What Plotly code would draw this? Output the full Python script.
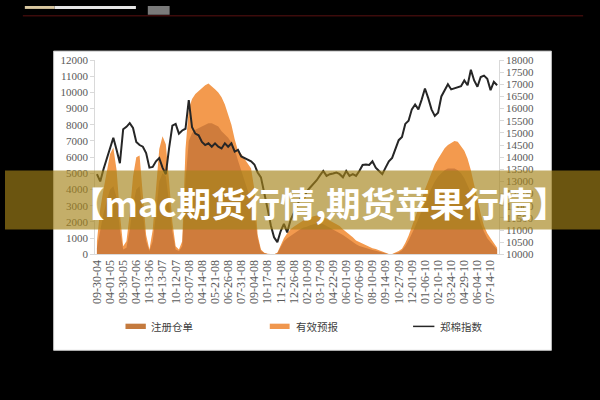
import plotly.graph_objects as go

# ---- data ----
date_labels = ["09-30-04", "04-01-05", "09-30-05", "04-07-06", "10-13-06", "04-13-07",
               "10-12-07", "03-07-08", "04-14-08", "05-21-08", "06-26-08", "07-31-08",
               "09-04-08", "10-17-08", "11-21-08", "12-26-08", "02-10-09", "03-17-09",
               "04-22-09", "06-01-09", "07-06-09", "08-10-09", "09-14-09", "10-27-09",
               "12-01-09", "01-06-10", "02-10-10", "03-24-10", "04-29-10", "06-04-10",
               "07-14-10"]
points_per_label = 4

cotton_index = [
    13300, 13000, 13500, 13950, 14350, 14800, 14300, 13750, 15150, 15250,
    15400, 15200, 14630, 14500, 14430, 14170, 13570, 13600, 13830, 13960,
    13570, 13300, 14370, 15300, 15370, 14970, 15100, 15170, 16350, 15230,
    14970, 14900, 14630, 14500, 14570, 14430, 14570, 14430, 14360, 14570,
    14430, 14570, 14230, 14300, 14030, 13970, 13900, 13830, 13700, 13370,
    13170, 12600, 11900, 11200, 10700, 10500, 10950, 11250, 10900, 11400,
    11700, 12050, 12300, 12250, 12600, 12750, 12900, 13050, 13250, 13430,
    13230, 13300, 13330, 13370, 13300, 13170, 13430, 13230, 13300, 13230,
    13430, 13680, 13700, 13680, 13830, 13570, 13430, 13300, 13570, 13830,
    13970, 14370, 14700, 14830, 15370, 15500, 15970, 16170, 15970, 16370,
    16830, 16430, 15970, 15700, 15830, 16500, 16760, 17000, 16790, 16830,
    16900, 16920, 17160, 16960, 17600, 17160, 16900, 17300, 17360, 17230,
    16760, 17100, 16960]

valid_forecast = [
    800, 2800, 4000, 5200, 6200, 6600, 5200, 2500, 500, 800,
    2500, 4800, 6000, 6100, 3500, 1200, 300, 1500, 4000, 6500,
    7300, 6800, 4500, 2000, 500, 300, 800, 6500, 9000, 9600,
    9900, 10100, 10250, 10450, 10550, 10400, 10200, 10000, 9700, 9250,
    8650, 8000, 7100, 6400, 6200, 5900, 5600, 5300, 4000, 1200,
    300, 100, 30, 0, 0, 100, 600, 1000, 1300, 1550,
    1700, 1850, 2000, 2100, 2200, 2300, 2350, 2400, 2400, 2300,
    2200, 2100, 1950, 1850, 1750, 1550, 1400, 1200, 1050, 850,
    750, 650, 550, 450, 380, 330, 250, 180, 80, 20,
    20, 100, 200, 350, 700, 1150, 1700, 2200, 2800, 3400,
    4000, 4550, 5100, 5550, 5900, 6200, 6550, 6750, 6900, 7000,
    6950, 6700, 6400, 5900, 5200, 4300, 3300, 2500, 1750, 1300,
    1000, 700, 400]

registered_receipts = [
    400, 1500, 2500, 3300, 4000, 4200, 3500, 1500, 300, 400,
    1500, 3000, 4000, 4200, 2500, 800, 200, 800, 2500, 4500,
    5000, 4800, 3200, 1400, 300, 200, 500, 4500, 7000, 7500,
    7700, 7800, 7900, 8000, 8100, 8100, 8000, 7900, 7600, 7400,
    7200, 6900, 6500, 5800, 5200, 4600, 4000, 3300, 2500, 1000,
    200, 80, 20, 0, 0, 60, 400, 800, 1000, 1150,
    1300, 1450, 1550, 1650, 1700, 1800, 1850, 1900, 1900, 1850,
    1750, 1650, 1550, 1450, 1350, 1200, 1050, 900, 750, 620,
    520, 450, 380, 320, 260, 220, 170, 120, 50, 10,
    10, 50, 120, 250, 500, 850, 1250, 1700, 2200, 2700,
    3200, 3700, 4100, 4500, 4800, 5000, 5200, 5300, 5300, 5300,
    5200, 5000, 4700, 4300, 3800, 3200, 2500, 1900, 1400, 1000,
    750, 550, 300]

series_names = ["注册仓单", "有效预报", "郑棉指数"]
banner_text = "【mac期货行情,期货苹果行情】"

# ---- styling ----
W, H = 600, 400
LIGHT = "#F39A4E"
DARK = "#CF7C3C"
LINE = "#262626"
AXIS = "#D9D9D9"
TICKC = "#595959"
SERIF = "Liberation Serif"
CJK = "Noto Sans CJK SC"

x = list(range(len(cotton_index)))
tickvals = [i * points_per_label for i in range(len(date_labels))]

fig = go.Figure()
fig.add_trace(go.Scatter(x=x, y=valid_forecast, name=series_names[1], mode="lines",
                         line=dict(width=0, color=LIGHT), fill="tozeroy",
                         fillcolor=LIGHT, showlegend=False, yaxis="y"))
fig.add_trace(go.Scatter(x=x, y=registered_receipts, name=series_names[0], mode="lines",
                         line=dict(width=0, color=DARK), fill="tozeroy",
                         fillcolor=DARK, showlegend=False, yaxis="y"))
fig.add_trace(go.Scatter(x=x, y=cotton_index, name=series_names[2], mode="lines",
                         line=dict(width=2, color=LINE), showlegend=False, yaxis="y2"))


def px(v):
    return v / W


def py(v):
    return 1 - v / H


shapes = [
    # white panel
    dict(type="rect", xref="paper", yref="paper", x0=px(49), x1=px(551), y0=py(355), y1=py(46.5),
         fillcolor="white", line=dict(color="#BFBFBF", width=1), layer="below"),
    # header remnants at the top
    dict(type="rect", xref="paper", yref="paper", x0=px(20), x1=px(50), y0=py(3), y1=py(0),
         fillcolor="#D9C7A0", line=dict(width=0), layer="below"),
    dict(type="rect", xref="paper", yref="paper", x0=px(50), x1=px(132), y0=py(3), y1=py(0),
         fillcolor="#E6E6E6", line=dict(width=0), layer="below"),
    dict(type="rect", xref="paper", yref="paper", x0=px(144), x1=px(166), y0=py(9), y1=py(0),
         fillcolor="#7A7A7A", line=dict(width=0), layer="below"),
    dict(type="line", xref="paper", yref="paper", x0=px(18), x1=px(583), y0=py(10), y1=py(10),
         line=dict(color="#3C0B0B", width=1.5), layer="below"),
    # legend swatches
    dict(type="rect", xref="paper", yref="paper", x0=px(121.5), x1=px(142), y0=py(333), y1=py(327.5),
         fillcolor="#C47A3E", line=dict(width=0), layer="above"),
    dict(type="rect", xref="paper", yref="paper", x0=px(267), x1=px(287), y0=py(333), y1=py(327.5),
         fillcolor="#F0974E", line=dict(width=0), layer="above"),
    dict(type="line", xref="paper", yref="paper", x0=px(411.5), x1=px(433), y0=py(330.3), y1=py(330.3),
         line=dict(color=LINE, width=1.5), layer="above"),
    # banner overlay
    dict(type="rect", xref="paper", yref="paper", x0=0, x1=1, y0=py(230.5), y1=py(169.5),
         fillcolor="rgba(165,131,25,0.65)", line=dict(width=0), layer="above"),
]

annotations = [
    dict(text=series_names[0], x=px(145), y=py(330), xref="paper", yref="paper",
         xanchor="left", yanchor="middle", showarrow=False,
         font=dict(family=CJK, size=10.5, color="#404040")),
    dict(text=series_names[1], x=px(291), y=py(330), xref="paper", yref="paper",
         xanchor="left", yanchor="middle", showarrow=False,
         font=dict(family=CJK, size=10.5, color="#404040")),
    dict(text=series_names[2], x=px(436.5), y=py(330), xref="paper", yref="paper",
         xanchor="left", yanchor="middle", showarrow=False,
         font=dict(family=CJK, size=10.5, color="#404040")),
    dict(text="<b>" + banner_text + "</b>", x=px(317), y=py(202), xref="paper", yref="paper",
         xanchor="center", yanchor="middle", showarrow=False,
         font=dict(family=CJK, size=34.6, color="white")),
]

x_lo, x_hi = -0.5, 122.5
fig.update_layout(
    width=W, height=H,
    margin=dict(l=0, r=0, t=0, b=0),
    paper_bgcolor="black",
    plot_bgcolor="white",
    showlegend=False,
    shapes=shapes,
    annotations=annotations,
    xaxis=dict(domain=[91.05 / W, 497.9 / W], range=[x_lo, x_hi],
               tickmode="array", tickvals=tickvals, ticktext=date_labels,
               tickangle=-90, tickfont=dict(family=SERIF, size=12, color=TICKC),
               showline=True, linecolor=AXIS, linewidth=1, ticks="",
               showgrid=False, zeroline=False),
    yaxis=dict(domain=[py(256), py(55.7)], range=[0, 12000], dtick=1000, tickformat="d",
               tickfont=dict(family=SERIF, size=11, color=TICKC),
               showline=True, linecolor=AXIS, ticks="outside", ticklen=4, tickcolor=AXIS,
               showgrid=False, zeroline=False),
    yaxis2=dict(domain=[py(256), py(55.7)], range=[10000, 18000], dtick=500, tickformat="d",
                overlaying="y", side="right", anchor="x",
                tickfont=dict(family=SERIF, size=11, color=TICKC),
                showline=True, linecolor=AXIS, ticks="outside", ticklen=4, tickcolor=AXIS,
                showgrid=False, zeroline=False),
)

fig.write_html(
    "out.html",
    config={"displayModeBar": False},
    post_script="document.body.style.margin='0';document.body.style.overflow='hidden';"
                "document.body.style.background='black';",
)
